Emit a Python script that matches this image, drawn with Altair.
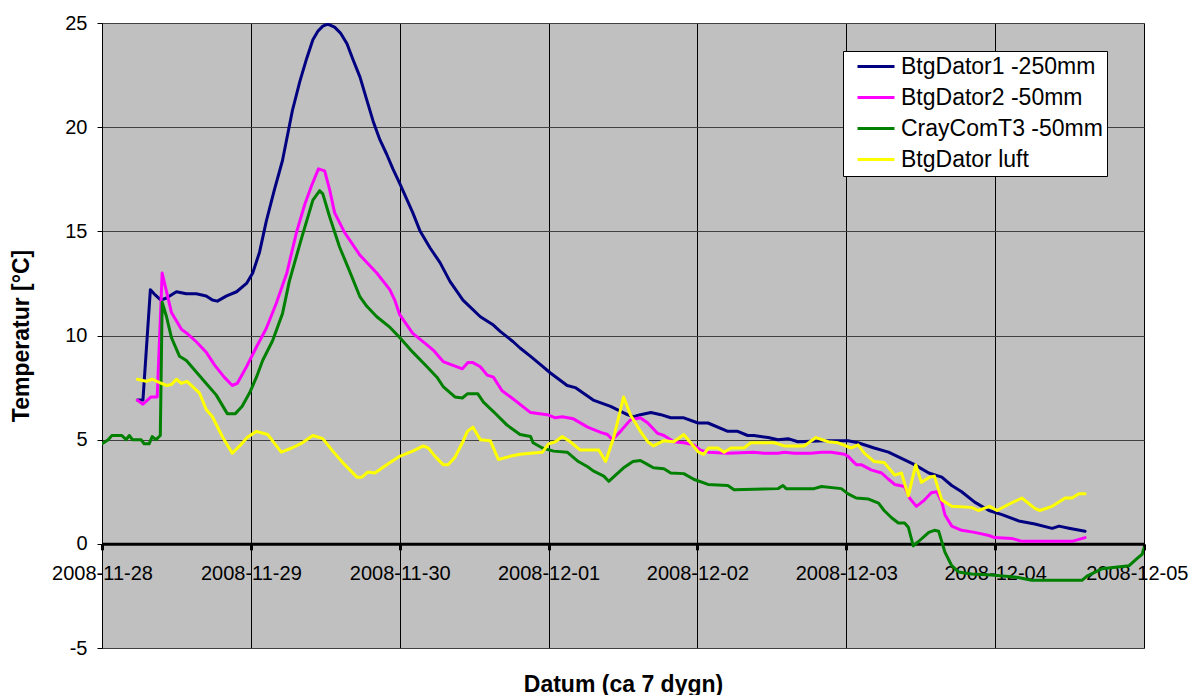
import altair as alt
import pandas as pd

series_names = ["BtgDator1 -250mm", "BtgDator2 -50mm", "CrayComT3 -50mm", "BtgDator luft"]
series_colors = ["#000080", "#FF00FF", "#008000", "#FFFF00"]
tick_dates = ["2008-11-28", "2008-11-29", "2008-11-30", "2008-12-01",
              "2008-12-02", "2008-12-03", "2008-12-04", "2008-12-05"]
y_ticks = [-5, 0, 5, 10, 15, 20, 25]

# hours after 2008-11-28 00:00 and temperatures (°C)
navy_hours = [5.7, 6.6, 7.8, 8.4, 9.5, 10.4, 12.0, 13.6, 15.2, 16.8,
              17.8, 18.6, 20.1, 21.7, 23.3, 24.3, 25.4, 26.5, 27.8, 29.1,
              30.7, 31.9, 33.0, 34.0, 34.8, 35.6, 36.4, 37.5, 38.5, 39.5,
              40.4, 41.6, 42.7, 43.7, 44.8, 45.9, 46.9, 48.0, 50.1, 51.3,
              52.9, 54.5, 56.1, 58.2, 61.0, 63.1, 64.2, 66.3, 67.4, 69.1,
              70.7, 72.3, 75.0, 76.3, 79.2, 82.0, 84.7, 85.7, 86.8, 88.5,
              90.1, 91.7, 93.8, 96.1, 97.7, 100.9, 102.5, 104.1, 105.1, 107.4,
              109.0, 110.6, 112.2, 116.4, 120.3, 121.9, 124.5, 126.8, 128.9, 131.0,
              133.3, 135.4, 137.0, 138.6, 140.7, 143.0, 145.1, 147.8, 150.4, 153.2,
              154.3, 155.9, 158.5]
navy_vals = [6.9, 6.9, 12.2, 12.0, 11.7, 11.8, 12.1, 12.0, 12.0, 11.9,
             11.7, 11.65, 11.9, 12.1, 12.5, 13.0, 14.0, 15.5, 17.0, 18.4,
             20.8, 22.2, 23.3, 24.2, 24.6, 24.85, 24.95, 24.8, 24.5, 24.0,
             23.3, 22.4, 21.3, 20.3, 19.4, 18.7, 18.0, 17.3, 15.9, 15.0,
             14.2, 13.5, 12.6, 11.7, 10.9, 10.5, 10.2, 9.7, 9.4, 9.0,
             8.6, 8.2, 7.6, 7.5, 6.9, 6.6, 6.2, 6.1, 6.2, 6.3,
             6.2, 6.05, 6.05, 5.8, 5.8, 5.4, 5.4, 5.2, 5.2, 5.1,
             5.0, 5.05, 4.9, 4.95, 4.95, 4.85, 4.6, 4.4, 4.1, 3.8,
             3.4, 3.2, 2.8, 2.5, 2.0, 1.6, 1.4, 1.1, 0.95, 0.74,
             0.85, 0.75, 0.6]

magenta_hours = [5.7, 6.6, 7.9, 8.9, 9.7, 11.2, 12.8, 13.7, 15.2, 16.8,
                 18.1, 19.7, 21.0, 21.8, 23.3, 24.9, 26.5, 28.1, 29.8, 31.4,
                 32.7, 33.8, 34.9, 35.9, 36.7, 37.5, 39.1, 41.6, 44.3, 46.4,
                 47.2, 48.0, 50.1, 52.4, 53.4, 55.0, 58.1, 59.0, 59.8, 61.0,
                 62.1, 63.1, 64.5, 66.3, 69.1, 71.8, 73.1, 74.2, 76.0, 78.3,
                 80.4, 81.5, 82.3, 83.6, 85.2, 86.8, 88.0, 89.6, 90.6, 92.2,
                 93.8, 95.4, 96.5, 97.7, 100.9, 105.1, 106.7, 109.0, 110.0, 111.6,
                 114.3, 116.0, 117.6, 119.7, 120.3, 121.6, 122.4, 124.0, 125.7, 126.8,
                 127.8, 129.4, 130.2, 131.3, 132.6, 133.7, 134.6, 135.4, 135.9, 137.0,
                 138.6, 140.7, 143.0, 143.9, 146.7, 148.3, 156.4, 158.5]
magenta_vals = [6.9, 6.7, 7.05, 7.05, 13.0, 11.1, 10.3, 10.1, 9.7, 9.2,
                8.6, 8.0, 7.6, 7.7, 8.5, 9.45, 10.35, 11.55, 13.0, 15.0,
                16.3, 17.2, 18.0, 17.9, 17.0, 15.9, 14.95, 13.85, 13.0, 12.2,
                11.7, 11.0, 10.1, 9.55, 9.3, 8.75, 8.4, 8.7, 8.7, 8.5,
                8.1, 8.0, 7.35, 6.95, 6.3, 6.2, 6.05, 6.1, 6.0, 5.6,
                5.35, 5.25, 5.0, 5.4, 5.95, 6.05, 5.8, 5.3, 5.2, 4.9,
                4.85, 4.75, 4.5, 4.4, 4.35, 4.4, 4.35, 4.35, 4.4, 4.35,
                4.35, 4.4, 4.4, 4.3, 4.2, 3.8, 3.8, 3.55, 3.4, 3.1,
                2.85, 2.75, 2.2, 1.8, 2.1, 2.45, 2.5, 2.0, 1.4, 0.85,
                0.65, 0.55, 0.4, 0.3, 0.26, 0.12, 0.12, 0.3]

green_hours = [0.0, 1.0, 1.6, 3.2, 3.9, 4.4, 4.9, 6.3, 6.8, 7.6,
               8.1, 8.7, 9.4, 9.7, 10.4, 11.2, 12.5, 13.6, 15.2, 16.8,
               18.4, 20.2, 21.5, 22.6, 23.8, 24.9, 25.9, 27.5, 29.1, 30.2,
               32.2, 34.0, 35.1, 35.6, 36.7, 38.3, 39.9, 41.6, 42.7, 44.3,
               46.4, 48.0, 50.1, 52.4, 54.0, 55.0, 56.9, 58.1, 58.9, 60.6,
               61.5, 63.1, 65.3, 67.4, 69.1, 69.5, 71.0, 72.8, 75.0, 76.8,
               78.3, 79.2, 80.9, 81.7, 82.8, 84.1, 85.6, 86.8, 88.0, 88.9,
               90.6, 91.7, 93.8, 95.4, 97.7, 100.9, 101.9, 109.0, 109.8, 110.3,
               114.8, 116.0, 119.2, 120.3, 121.6, 123.6, 125.2, 126.1, 127.3, 128.4,
               129.4, 130.0, 130.8, 131.6, 133.3, 134.2, 134.9, 135.9, 137.0, 138.1,
               140.2, 143.4, 147.5, 149.9, 158.0, 158.8, 161.2, 165.6, 166.9, 167.7,
               168.0]
green_vals = [4.8, 5.0, 5.2, 5.2, 5.0, 5.2, 5.0, 5.0, 4.8, 4.8,
              5.15, 5.0, 5.2, 11.6, 10.9, 9.9, 9.0, 8.8, 8.25, 7.7,
              7.15, 6.25, 6.25, 6.6, 7.25, 8.0, 8.8, 9.75, 11.05, 12.6,
              14.7, 16.5, 16.95, 16.8, 15.7, 14.25, 13.1, 11.85, 11.4, 10.9,
              10.4, 9.9, 9.2, 8.5, 8.0, 7.55, 7.05, 7.0, 7.2, 7.2,
              6.8, 6.35, 5.7, 5.25, 5.15, 4.85, 4.6, 4.45, 4.4, 3.95,
              3.7, 3.5, 3.25, 3.0, 3.3, 3.65, 3.95, 4.0, 3.8, 3.65,
              3.6, 3.4, 3.37, 3.1, 2.85, 2.8, 2.6, 2.65, 2.8, 2.65,
              2.65, 2.75, 2.65, 2.4, 2.2, 2.15, 1.95, 1.6, 1.25, 1.0,
              1.0, 0.8, -0.1, 0.1, 0.55, 0.65, 0.6, -0.4, -1.05, -1.35,
              -1.45, -1.5, -1.6, -1.75, -1.75, -1.55, -1.2, -1.05, -0.7, -0.5,
              -0.2]

yellow_hours = [5.7, 7.1, 8.1, 9.2, 10.4, 11.2, 12.0, 12.8, 13.7, 15.7,
                16.8, 17.8, 19.4, 21.0, 22.2, 23.4, 24.9, 26.7, 28.9, 30.6,
                32.3, 34.0, 35.6, 37.2, 38.8, 41.1, 41.9, 42.9, 44.0, 45.9,
                48.0, 50.1, 51.8, 52.6, 53.7, 55.0, 55.8, 56.9, 58.1, 58.9,
                59.8, 61.0, 62.6, 63.9, 65.8, 67.4, 69.1, 71.0, 72.0, 73.1,
                74.2, 75.5, 77.1, 80.1, 81.2, 82.5, 84.1, 85.2, 86.8, 88.0,
                88.9, 90.6, 92.2, 93.8, 94.9, 96.2, 97.0, 97.8, 99.3, 100.3,
                101.4, 103.5, 104.6, 108.4, 110.0, 113.2, 115.1, 117.1, 118.7, 120.8,
                121.9, 122.9, 124.5, 126.1, 127.8, 128.9, 130.0, 131.2, 132.1, 133.4,
                134.2, 135.4, 137.0, 140.2, 141.3, 143.1, 144.3, 146.2, 148.3, 150.4,
                151.2, 153.2, 155.3, 156.4, 157.5, 158.5]
yellow_vals = [7.9, 7.8, 7.9, 7.75, 7.6, 7.65, 7.9, 7.7, 7.8, 7.25,
               6.45, 6.1, 5.15, 4.35, 4.7, 5.1, 5.4, 5.25, 4.4, 4.6,
               4.85, 5.2, 5.05, 4.45, 3.9, 3.2, 3.2, 3.45, 3.4, 3.8,
               4.2, 4.45, 4.7, 4.6, 4.2, 3.8, 3.8, 4.15, 4.85, 5.4,
               5.6, 5.0, 4.95, 4.05, 4.2, 4.3, 4.35, 4.4, 4.8, 4.9,
               5.15, 4.9, 4.5, 4.5, 3.95, 5.1, 7.05, 6.2, 5.4, 4.9,
               4.7, 4.95, 4.9, 5.25, 4.85, 4.4, 4.3, 4.6, 4.6, 4.4,
               4.6, 4.6, 4.85, 4.85, 4.7, 4.7, 5.1, 4.9, 4.85, 4.6,
               4.75, 4.35, 3.95, 3.9, 3.3, 3.4, 2.3, 3.8, 2.95, 3.2,
               3.25, 2.1, 1.8, 1.75, 1.6, 1.8, 1.6, 1.9, 2.2, 1.7,
               1.6, 1.8, 2.2, 2.2, 2.4, 2.4]

start = pd.Timestamp(tick_dates[0])
frames = []
for name, hrs, vals in zip(series_names,
                           [navy_hours, magenta_hours, green_hours, yellow_hours],
                           [navy_vals, magenta_vals, green_vals, yellow_vals]):
    times = start + pd.to_timedelta(hrs, unit="h")
    frames.append(pd.DataFrame({"series": name,
                                "time": times.strftime("%Y-%m-%dT%H:%M:%S"),
                                "value": vals}))
df = pd.concat(frames, ignore_index=True)


def dt(s):
    y, m, d = (int(p) for p in s.split("-"))
    return alt.DateTime(year=y, month=m, date=d)


plot_w, plot_h = 1042, 625
y_min, y_max = y_ticks[0], y_ticks[-1]
zero_offset = -plot_h * (0 - y_min) / (y_max - y_min)

FONT = "Liberation Sans"

last_label = "datum.index === 1"

chart = alt.Chart(df).mark_line(strokeWidth=3, strokeJoin="round", strokeCap="round", clip=True).encode(
    x=alt.X("time:T", title="Datum (ca 7 dygn)",
            scale=alt.Scale(domain=[dt(tick_dates[0]), dt(tick_dates[-1])]),
            axis=alt.Axis(values=[dt(d) for d in tick_dates], format="%Y-%m-%d",
                          offset=zero_offset, domainColor="black", domainWidth=3,
                          tickColor="black", tickWidth=3, tickSize=6,
                          grid=True, gridColor="black", gridWidth=1,
                          labelFontSize=20, labelColor="black", labelPadding=14,
                          labelOverlap=False, labelFlush=False,
                          labelAlign={"condition": {"test": last_label, "value": "right"},
                                      "value": "center"},
                          labelOffset={"condition": {"test": last_label, "value": 44},
                                       "value": 0},
                          titleFontSize=23, titleFontWeight="bold", titleColor="black",
                          titlePadding=90)),
    y=alt.Y("value:Q", title="Temperatur [°C]",
            scale=alt.Scale(domain=[y_min, y_max], nice=False, zero=False),
            axis=alt.Axis(values=y_ticks, labelExpr="'' + datum.value",
                          domainColor="black", tickColor="black", tickSize=5,
                          grid=True, gridColor="#404040", gridWidth=1,
                          labelFontSize=20, labelColor="black", labelPadding=10,
                          titleFontSize=23, titleFontWeight="bold", titleColor="black",
                          titlePadding=31)),
    color=alt.Color("series:N",
                    scale=alt.Scale(domain=series_names, range=series_colors),
                    legend=alt.Legend(title=None, orient="none", legendX=741, legendY=28,
                                      fillColor="white", strokeColor="black", padding=4,
                                      symbolType="M-2,0H2", symbolSize=342,
                                      symbolStrokeWidth=3, labelFontSize=23,
                                      labelColor="black", rowPadding=7,
                                      labelExpr="datum.label + '\u00a0\u00a0\u00a0\u00a0'",
                                      symbolOffset=17.5, labelOffset=13.5, labelLimit=400)),
).properties(
    width=plot_w, height=plot_h,
    padding={"left": 94, "top": 15, "right": 45, "bottom": 52},
    autosize=alt.AutoSizeParams(type="none"),
    background="white",
).configure(font=FONT).configure_view(fill="#C0C0C0", stroke="#808080", strokeWidth=1)

chart.save("out.html", embed_options={"renderer": "svg", "actions": False})
